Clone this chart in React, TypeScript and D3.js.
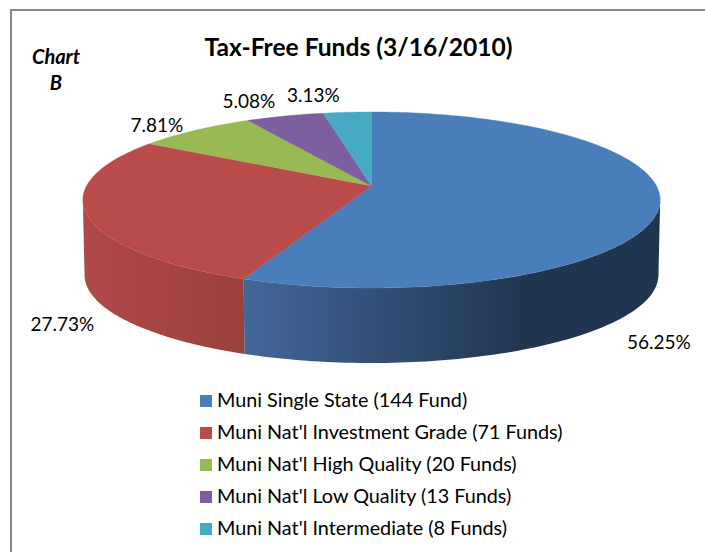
import React from "react";
import * as d3 from "d3";

const categories = [
  "Muni Single State (144 Fund)",
  "Muni Nat'l Investment Grade (71 Funds)",
  "Muni Nat'l High Quality (20 Funds)",
  "Muni Nat'l Low Quality (13 Funds)",
  "Muni Nat'l Intermediate (8 Funds)",
];
const values = [56.25, 27.73, 7.81, 5.08, 3.13];
const valueLabels = ["56.25%", "27.73%", "7.81%", "5.08%", "3.13%"];
const colors = ["#4a7ebb", "#b94c4a", "#98b954", "#7d5fa0", "#46aac5"];
const labelPos: [number, number][] = [[627, 349], [30.5, 331], [130.5, 132], [222.5, 108], [287, 102]];

const W = 705, H = 552;
const APEX_X = 371.5, APEX_Y = 186, R = 285;
const PA = 56.2, PC = -0.159;
const DEPTH = 75;

// perspective projection of a flat unit disc on to the tilted top face
function project(theta: number, r = 1): [number, number] {
  const u = Math.sin(theta) * r;
  const v = -Math.cos(theta) * r;
  const d = PC * v + 1;
  return [APEX_X + (R * u) / d, (PA * v + APEX_Y) / d];
}
function sample(a0: number, a1: number): number[] {
  const n = Math.max(2, Math.ceil((a1 - a0) / 0.02));
  return d3.range(n + 1).map((i) => a0 + ((a1 - a0) * i) / n);
}
const line = d3.line<[number, number]>();

const arcs = d3.pie<number>().sort(null).startAngle(0).endAngle(2 * Math.PI)(values);

function topPath(a0: number, a1: number): string {
  const pts: [number, number][] = [[APEX_X, APEX_Y], ...sample(a0, a1).map((t) => project(t))];
  return line(pts)! + "Z";
}
function sidePath(a0: number, a1: number): string {
  const top = sample(a0, a1).map((t) => project(t));
  const bot = top
    .map(([x, y]): [number, number] => [APEX_X + (x - APEX_X) * 0.994, y + DEPTH])
    .reverse();
  return line([...top, ...bot])! + "Z";
}
// front half of the rim: visible between the two extreme points of the ellipse
const RIM_START = Math.PI / 2 + 0.16;
const RIM_END = (3 * Math.PI) / 2 - 0.16;

const legendY = d3.scalePoint<number>().domain(d3.range(categories.length)).range([401, 529]);

export default function App() {
  return (
    <svg
      width={W}
      height={H}
      viewBox={`0 0 ${W} ${H}`}
      style={{ position: "absolute", left: 0, top: 0, background: "#fff" }}
      fontFamily="Lato, 'Open Sans', sans-serif"
    >
      <defs>
        <linearGradient id="blueSide" gradientUnits="userSpaceOnUse" x1={244} x2={660} y1={0} y2={0}>
          <stop offset="0" stopColor="#42689a" />
          <stop offset="0.4" stopColor="#30496f" />
          <stop offset="0.68" stopColor="#1f3550" />
          <stop offset="1" stopColor="#1f3550" />
        </linearGradient>
        <linearGradient id="redSide" gradientUnits="userSpaceOnUse" x1={83} x2={244} y1={0} y2={0}>
          <stop offset="0" stopColor="#b0494a" />
          <stop offset="1" stopColor="#9b403b" />
        </linearGradient>
      </defs>
      <path d="M11,552V10H705" fill="none" stroke="#868686" strokeWidth={2} />

      {arcs.slice(0, 2).map((a, i) => {
        const s = Math.max(a.startAngle, RIM_START);
        const e = Math.min(a.endAngle, RIM_END);
        return <path key={i} d={sidePath(s, e)} fill={i === 0 ? "url(#blueSide)" : "url(#redSide)"} />;
      })}
      {arcs.map((a, i) => (
        <path key={i} d={topPath(a.startAngle, a.endAngle)} fill={colors[i]} stroke={colors[i]} strokeWidth={0.4} />
      ))}

      <text x={358.5} y={56} textAnchor="middle" fontSize={24.6} fontWeight={700} fill="#000">
        Tax-Free Funds (3/16/2010)
      </text>
      <text x={56} y={64} textAnchor="middle" fontSize={20} fontWeight={700} fontStyle="italic" fill="#000">Chart</text>
      <text x={56} y={90} textAnchor="middle" fontSize={20} fontWeight={700} fontStyle="italic" fill="#000">B</text>

      {valueLabels.map((t, i) => (
        <text key={t} x={labelPos[i][0]} y={labelPos[i][1]} fontSize={19} fill="#000">{t}</text>
      ))}

      {categories.map((c, i) => {
        const y = legendY(i)!;
        return (
          <g key={c}>
            <rect x={200} y={y - 6} width={12} height={12} fill={colors[i]} />
            <text x={217} y={y + 6} fontSize={19.8} fill="#000">{c}</text>
          </g>
        );
      })}
    </svg>
  );
}
